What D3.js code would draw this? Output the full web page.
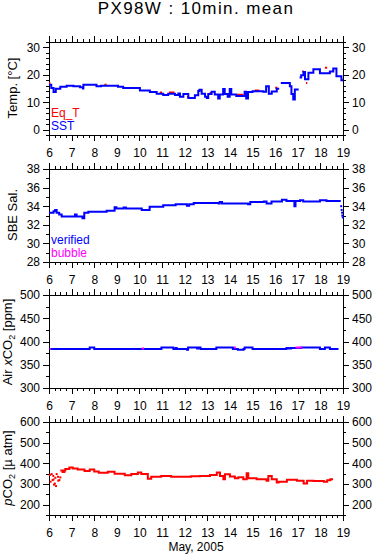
<!DOCTYPE html>
<html>
<head>
<meta charset="utf-8">
<script src="https://cdn.jsdelivr.net/npm/d3@7"></script>
<style>
body { margin: 0; background: #fff; }
text { font-family: "Liberation Sans", Arial, Helvetica, sans-serif; }
</style>
</head>
<body>
<div id="chart"></div>
<script>
// tick labels
const dayTicks = [6, 7, 8, 9, 10, 11, 12, 13, 14, 15, 16, 17, 18, 19];
const tempTicks = [0, 10, 20, 30];
const salTicks = [28, 30, 32, 34, 36, 38];
const airTicks = [300, 350, 400, 450, 500];
const pco2Ticks = [200, 300, 400, 500, 600];

// [day of May, value]
const sst = [
  [6.0, 16.4], [6.1, 15.2], [6.2, 13.7], [6.3, 14.9], [6.5, 15.6], [6.78, 16.0], [7.08, 15.8],
  [7.37, 15.5], [7.5, 15.0], [7.52, 16.4], [8.1, 15.8], [8.3, 16.0], [9.05, 15.6], [9.28, 15.2],
  [10.02, 14.3], [10.46, 13.7], [10.76, 13.1], [11.05, 12.6], [11.27, 13.1], [11.57, 12.6],
  [11.72, 13.2], [11.79, 12.0], [11.94, 13.0], [12.16, 11.5], [12.45, 12.5], [12.6, 14.1],
  [12.65, 14.5], [12.75, 13.1], [12.9, 12.0], [12.98, 11.5], [13.04, 13.0], [13.19, 13.8],
  [13.33, 12.8], [13.48, 11.3], [13.55, 12.8], [13.7, 14.8], [13.77, 13.0], [13.9, 12.0],
  [13.99, 14.8], [14.06, 12.8], [14.28, 12.3], [14.65, 13.8], [14.72, 11.3], [14.8, 13.7],
  [15.0, 14.0], [15.47, 13.8], [15.6, 15.8], [15.72, 13.1], [15.85, 13.9], [16.07, 14.9],
  [16.18, 14.9], [16.2, null], [16.25, 17.0], [16.65, 15.8], [16.72, 13.0], [16.8, 11.0],
  [16.87, 14.6], [17.04, 14.6], [17.05, null], [17.08, 19.0], [17.15, 19.8], [17.25, 21.0],
  [17.32, 18.4], [17.47, 20.8], [17.69, 22.0], [17.98, 20.6], [18.42, 21.2], [18.57, 22.3],
  [18.71, 19.5], [18.93, 18.0], [19.0, 18.0]
];
const eqT = [
  [6.0, 17.0], [6.06, 17.0], [6.07, null], [8.45, 16.4], [8.55, 16.4], [8.56, null],
  [10.9, 13.5], [11.0, 13.5], [11.01, null], [11.3, 13.5], [11.55, 13.5], [11.56, null],
  [12.1, 11.9], [12.2, 11.9], [12.21, null], [13.1, 13.4], [13.2, 13.4], [13.21, null],
  [14.3, 12.7], [14.6, 12.7], [14.61, null], [15.1, 14.3], [15.3, 14.3], [15.31, null],
  [16.0, 15.3], [16.1, 15.3], [16.11, null], [17.2, 21.3], [17.25, 21.3], [17.26, null],
  [17.36, 17.0], [17.42, 17.0], [17.43, null], [18.2, 22.6], [18.3, 22.6], [18.31, null],
  [18.52, 21.4], [18.6, 21.4]
];
const salVerified = [
  [6.0, 33.3], [6.2, 33.45], [6.27, 33.6], [6.34, 33.3], [6.45, 33.1], [6.56, 32.9], [7.15, 33.1],
  [7.22, 32.9], [7.48, 32.7], [7.56, 33.3], [7.74, 33.4], [8.55, 33.5], [8.9, 33.9], [8.98, 33.75],
  [9.3, 33.85], [9.4, 33.75], [10.1, 33.6], [10.45, 33.95], [11.05, 34.1], [11.6, 34.2],
  [12.1, 34.05], [12.2, 34.2], [12.4, 34.35], [13.5, 34.3], [13.55, 34.45], [13.65, 34.3],
  [14.0, 34.3], [14.8, 34.2], [14.9, 34.45], [15.5, 34.5], [15.62, 34.3], [15.84, 34.5],
  [16.3, 34.7], [16.5, 34.55], [16.85, 34.0], [16.9, 34.55], [17.1, 34.65], [17.24, 34.5],
  [17.98, 34.65], [18.27, 34.55], [18.9, 34.55]
];
const salEnd = [[18.92, 34.0], [18.94, 33.6], [18.96, 33.3], [18.97, 33.0], [18.99, 32.8]];
const airVerified = [
  [6.03, 384], [7.8, 387], [8.0, 384], [10.97, 387], [11.5, 384], [11.6, 386], [11.65, 384],
  [12.1, 382], [12.15, 387], [12.55, 385], [12.6, 387], [12.7, 384], [13.4, 387], [14.13, 384],
  [14.35, 382], [14.6, 384], [14.65, 387], [15.0, 384], [16.5, 386], [16.6, 385], [16.7, 386],
  [17.15, 387], [17.98, 384], [18.2, 387], [18.42, 384], [18.8, 384]
];
const airBubble = [
  [6.03, 384], [6.08, 384], [6.09, null], [10.1, 385], [10.2, 385], [10.21, null],
  [14.18, 387], [14.26, 387], [14.27, null], [16.9, 387], [17.2, 387]
];
const pco2Early = [
  [6.04, 344], [6.07, 311], [6.12, 348], [6.16, 319], [6.19, 339], [6.2, 322], [6.22, 297],
  [6.26, 302], [6.28, 330], [6.31, 290], [6.34, 348], [6.4, 335], [6.41, 316], [6.46, 319], [6.5, 332]
];
const pco2 = [
  [6.5, 365], [6.6, 358], [6.68, 365], [6.72, 372], [6.9, 380], [7.05, 375], [7.27, 370],
  [7.57, 363], [7.8, 370], [8.0, 360], [8.2, 354], [8.6, 359], [8.9, 349], [9.35, 342],
  [9.64, 348], [9.93, 356], [10.08, 348], [10.37, 326], [10.52, 335], [10.96, 339], [11.4, 335],
  [12.28, 338], [12.68, 339], [13.12, 344], [13.42, 356], [13.56, 339], [13.71, 323], [13.78, 347],
  [14.0, 336], [14.22, 328], [14.37, 333], [14.59, 323], [14.74, 352], [14.81, 328], [15.18, 323],
  [15.62, 316], [15.7, 339], [15.85, 323], [16.07, 307], [16.15, 311], [16.52, 320], [16.96, 316],
  [17.26, 303], [17.41, 316], [17.7, 315], [18.15, 311], [18.3, 318], [18.44, 323], [18.56, 323]
];

const W = 378, H = 558;
const left = 49, right = 343, ph = 93;

const svg = d3.select("#chart").append("svg")
    .attr("width", W)
    .attr("height", H);

svg.append("text")
    .attr("x", 196)
    .attr("y", 14)
    .attr("text-anchor", "middle")
    .style("font-size", "17px")
    .style("letter-spacing", "1.4px")
    .text("PX98W : 10min. mean");

const x = d3.scaleLinear().domain([6, 19]).range([left, right]);
const minorDays = d3.range(6, 19.001, 0.25);

function styleAxis(g) {
    g.select(".domain").remove();
    g.selectAll("line").attr("stroke", "#000").attr("shape-rendering", "crispEdges");
    g.selectAll("text").style("font-size", "12px").attr("fill", "#000")
        .style("font-family", "'Liberation Sans', Arial, Helvetica, sans-serif");
}

function drawPanel(top, domain, ticks, minorStep) {
    const y = d3.scaleLinear().domain(domain).range([top + ph, top]);
    const g = svg.append("g");
    const minorY = d3.range(domain[0], domain[1] + 0.001, minorStep);

    // x axes, bottom with labels, top ticks only
    g.append("g").attr("transform", "translate(0," + (top + ph) + ")")
        .call(d3.axisBottom(x).tickValues(minorDays).tickSize(3).tickFormat(""))
        .call(styleAxis);
    g.append("g").attr("transform", "translate(0," + (top + ph) + ")")
        .call(d3.axisBottom(x).tickValues(dayTicks).tickSize(6).tickPadding(7).tickFormat(d3.format("d")))
        .call(styleAxis);
    g.append("g").attr("transform", "translate(0," + top + ")")
        .call(d3.axisTop(x).tickValues(minorDays).tickSize(3).tickFormat(""))
        .call(styleAxis);
    g.append("g").attr("transform", "translate(0," + top + ")")
        .call(d3.axisTop(x).tickValues(dayTicks).tickSize(6).tickFormat(""))
        .call(styleAxis);

    // y axes, both sides labelled
    g.append("g").attr("transform", "translate(" + left + ",0)")
        .call(d3.axisLeft(y).tickValues(minorY).tickSize(3).tickFormat(""))
        .call(styleAxis);
    g.append("g").attr("transform", "translate(" + left + ",0)")
        .call(d3.axisLeft(y).tickValues(ticks).tickSize(6).tickPadding(3).tickFormat(d3.format("d")))
        .call(styleAxis);
    g.append("g").attr("transform", "translate(" + right + ",0)")
        .call(d3.axisRight(y).tickValues(minorY).tickSize(3).tickFormat(""))
        .call(styleAxis);
    g.append("g").attr("transform", "translate(" + right + ",0)")
        .call(d3.axisRight(y).tickValues(ticks).tickSize(6).tickPadding(3).tickFormat(d3.format("d")))
        .call(styleAxis);

    g.append("rect")
        .attr("x", left + 0.5)
        .attr("y", top + 0.5)
        .attr("width", right - left)
        .attr("height", ph)
        .attr("fill", "none")
        .attr("stroke", "#000")
        .attr("shape-rendering", "crispEdges");

    return { g: g, y: y };
}

function stepLine(y) {
    return d3.line()
        .defined(d => d[1] !== null)
        .x(d => x(d[0]))
        .y(d => y(d[1]))
        .curve(d3.curveStepAfter);
}

function drawSeries(p, data, color) {
    p.g.append("path")
        .datum(data)
        .attr("fill", "none")
        .attr("stroke", color)
        .attr("stroke-width", 2)
        .attr("d", stepLine(p.y));
}

function drawDots(p, data, color) {
    p.g.selectAll(null)
        .data(data)
        .enter().append("rect")
        .attr("x", d => x(d[0]) - 1)
        .attr("y", d => p.y(d[1]) - 1)
        .attr("width", 2)
        .attr("height", 2)
        .attr("fill", color);
}

function yLabel(cx, cy, parts) {
    const t = svg.append("text")
        .attr("transform", "translate(" + cx + "," + cy + ") rotate(-90)")
        .attr("text-anchor", "middle")
        .style("font-size", "13px");
    parts.forEach(p => {
        const s = t.append("tspan").text(p.t);
        if (p.italic) s.style("font-style", "italic");
        if (p.sub) s.attr("dy", 3).style("font-size", "9px");
        if (p.back) s.attr("dy", -3);
    });
}

function legend(tx, ty, label, color) {
    svg.append("text")
        .attr("x", tx)
        .attr("y", ty)
        .attr("fill", color)
        .style("font-size", "12px")
        .text(label);
}

// 1. temperature
const p1 = drawPanel(42, [-2, 32], tempTicks, 2);
drawSeries(p1, eqT, "#ff0000");
drawSeries(p1, sst, "#0000ff");
legend(51, 116.5, "Eq_T", "#ff0000");
legend(51, 130, "SST", "#0000ff");
yLabel(16.5, 88, [{ t: "Temp. [°C]" }]);

// 2. salinity
const p2 = drawPanel(169, [28, 38], salTicks, 1);
drawSeries(p2, salVerified, "#0000ff");
drawDots(p2, salEnd, "#0000ff");
legend(51, 243.5, "verified", "#0000ff");
legend(51, 257, "bubble", "#ff00ff");
yLabel(16.5, 215, [{ t: "SBE Sal." }]);

// 3. air xCO2
const p3 = drawPanel(295, [300, 500], airTicks, 25);
drawSeries(p3, airVerified, "#0000ff");
drawSeries(p3, airBubble, "#ff00ff");
yLabel(12, 342, [{ t: "Air " }, { t: "x", italic: true }, { t: "CO" }, { t: "2", sub: true }, { t: " [ppm]", back: true }]);

// 4. pCO2
const p4 = drawPanel(422, [150, 600], pco2Ticks, 50);
drawDots(p4, pco2Early, "#ff0000");
drawSeries(p4, pco2, "#ff0000");
yLabel(12, 468, [{ t: "p", italic: true }, { t: "CO" }, { t: "2", sub: true }, { t: " [µ atm]", back: true }]);

svg.append("text")
    .attr("x", 196)
    .attr("y", 551)
    .attr("text-anchor", "middle")
    .style("font-size", "12px")
    .text("May, 2005");
</script>
</body>
</html>
